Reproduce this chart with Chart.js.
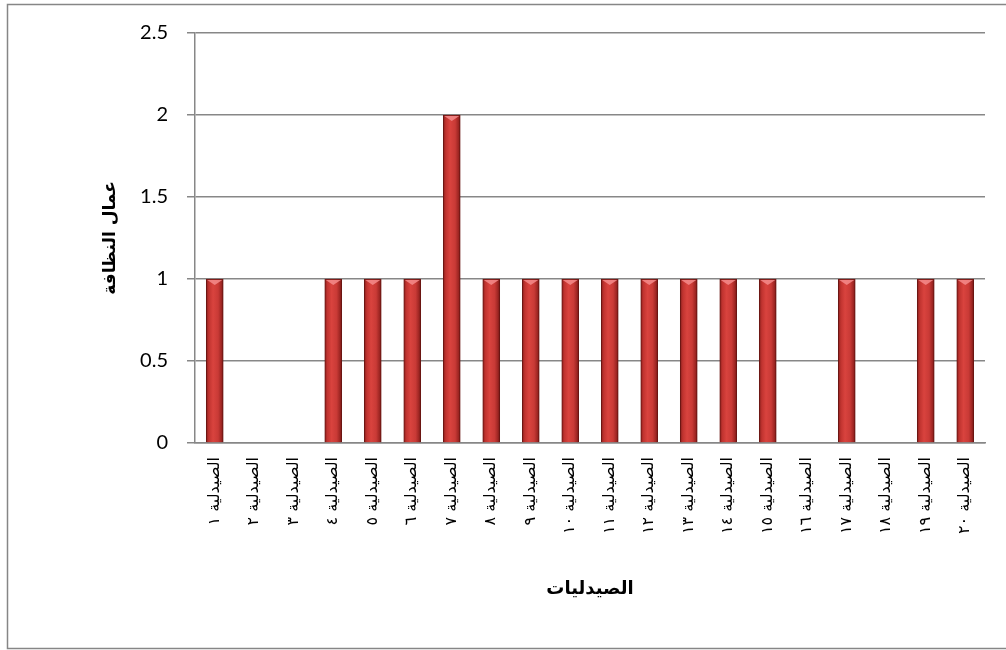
<!DOCTYPE html>
<html>
<head>
<meta charset="utf-8">
<script src="https://cdn.jsdelivr.net/npm/chart.js@4.4.0/dist/chart.umd.min.js"></script>
<style>
  html, body { margin: 0; padding: 0; background: #fff; }
  #wrap { width: 1006px; height: 650px; }
</style>
</head>
<body>
<div id="wrap"><canvas id="barChart" width="1006" height="650"></canvas></div>
<script>
// pharmacies and their cleaning staff counts
var pharmacies = ['الصيدلية ١', 'الصيدلية ٢', 'الصيدلية ٣', 'الصيدلية ٤', 'الصيدلية ٥',
                  'الصيدلية ٦', 'الصيدلية ٧', 'الصيدلية ٨', 'الصيدلية ٩', 'الصيدلية ١٠',
                  'الصيدلية ١١', 'الصيدلية ١٢', 'الصيدلية ١٣', 'الصيدلية ١٤', 'الصيدلية ١٥',
                  'الصيدلية ١٦', 'الصيدلية ١٧', 'الصيدلية ١٨', 'الصيدلية ١٩', 'الصيدلية ٢٠'];
var cleaners = [1, 0, 0, 1, 1, 1, 2, 1, 1, 1, 1, 1, 1, 1, 1, 0, 1, 0, 1, 1];
var yTicks = [0, 0.5, 1, 1.5, 2, 2.5];

var xTitle = 'الصيدليات';
var yTitle = 'عمال النظافة';

var BAR_W = 17;
var gridGray = '#878787';

// cylinder-ish shading across each bar
function barFill(c) {
    if (!c.raw) return 'rgba(0,0,0,0)';
    var chart = c.chart;
    var xs = chart.scales.x;
    if (!xs || c.dataIndex === undefined) return '#c0332f';
    var cx = xs.getPixelForValue(c.dataIndex);
    if (!isFinite(cx)) return '#c0332f';
    var g = chart.ctx.createLinearGradient(cx - BAR_W / 2, 0, cx + BAR_W / 2, 0);
    g.addColorStop(0, '#8a1f1c');
    g.addColorStop(0.15, '#c0332f');
    g.addColorStop(0.4, '#d9433e');
    g.addColorStop(0.7, '#c93a36');
    g.addColorStop(0.9, '#9c2522');
    g.addColorStop(1, '#6e1613');
    return g;
}

// outer frame + pink bevel on bar tops
var decor = {
    id: 'decor',
    afterDatasetsDraw: function(chart) {
        var ctx = chart.ctx;
        var meta = chart.getDatasetMeta(0);
        ctx.save();
        meta.data.forEach(function(bar, i) {
            if (!cleaners[i]) return;
            var w = bar.width, x = bar.x, y = bar.y;
            ctx.beginPath();
            ctx.moveTo(x - w / 2 + 1, y + 1);
            ctx.lineTo(x + w / 2 - 1, y + 1);
            ctx.lineTo(x, y + 6);
            ctx.closePath();
            ctx.fillStyle = 'rgba(245,140,140,0.85)';
            ctx.fill();
        });
        ctx.restore();
    },
    afterDraw: function(chart) {
        var ctx = chart.ctx;
        ctx.save();
        ctx.strokeStyle = '#868686';
        ctx.lineWidth = 1.5;
        ctx.strokeRect(7.5, 4.5, 1010, 644);
        ctx.restore();
    }
};

var ctx = document.getElementById('barChart').getContext('2d');
var myChart = new Chart(ctx, {
    type: 'bar',
    data: {
        labels: pharmacies,
        datasets: [{
            label: yTitle,
            data: cleaners,
            backgroundColor: barFill,
            borderColor: '#6a1512',
            borderWidth: function(c) { return c.raw ? 1 : 0; },
            borderSkipped: 'bottom',
            barThickness: BAR_W
        }]
    },
    options: {
        responsive: false,
        animation: false,
        layout: { padding: { top: 33, right: 21, bottom: 0, left: 0 } },
        plugins: {
            legend: { display: false },
            tooltip: { enabled: false }
        },
        scales: {
            x: {
                grid: { display: false, drawTicks: false },
                border: { color: gridGray, width: 1.5 },
                ticks: {
                    autoSkip: false,
                    maxRotation: 90,
                    minRotation: 90,
                    padding: 14,
                    color: '#000',
                    font: { family: 'DejaVu Sans', size: 16 }
                },
                title: {
                    display: true,
                    text: xTitle,
                    color: '#000',
                    font: { family: 'DejaVu Sans', size: 18, weight: 'bold' },
                    padding: { top: 0, bottom: 50 }
                },
                afterFit: function(s) { s.height = 207; }
            },
            y: {
                min: 0,
                max: 2.5,
                afterBuildTicks: function(s) { s.ticks = yTicks.map(function(v) { return { value: v }; }); },
                grid: { color: gridGray, lineWidth: 1.5, tickLength: 8, drawTicks: true },
                border: { color: gridGray, width: 1.5 },
                ticks: {
                    padding: 19,
                    color: '#000',
                    font: { family: 'Lato', size: 20 },
                    callback: function(v) { return String(v); }
                },
                title: {
                    display: true,
                    text: yTitle,
                    color: '#000',
                    font: { family: 'DejaVu Sans', size: 17, weight: 'bold' },
                    padding: { top: 100, bottom: 0 }
                },
                afterFit: function(s) { s.width = 195; }
            }
        }
    },
    plugins: [decor]
});
</script>
</body>
</html>
